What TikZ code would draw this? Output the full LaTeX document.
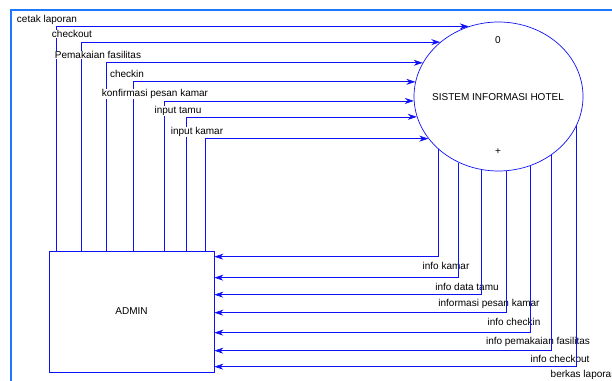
\documentclass[tikz,border=0pt]{standalone}
\usepackage{fontspec}
\setmainfont{Liberation Sans}
\usepackage{xcolor}
\usetikzlibrary{arrows.meta, shapes.geometric}
\definecolor{flowblue}{HTML}{1010F5}
\definecolor{frameblue}{HTML}{1E78FF}

\begin{document}
\begin{tikzpicture}[
  x=1pt, y=-1pt,
  frame/.style={draw=frameblue, line width=2pt},
  flow/.style={-{Stealth[length=9pt, width=6pt]}, draw=flowblue, line width=0.7pt},
  proc/.style={ellipse, draw=flowblue, line width=0.7pt, minimum width=169pt,
    minimum height=149pt, inner sep=0pt},
  ent/.style={rectangle, draw=flowblue, line width=0.7pt, minimum width=165pt,
    minimum height=121pt},
  txt/.style={font=\fontsize{10}{12}\selectfont, inner sep=0.5pt},
  lbl/.style={txt, fill=white},
]
  \useasboundingbox (0,0) rectangle (612,380);
  \draw[frame] (11,420) |- (650,10);

  % Process and external entity
  \node[proc] (sys) at (498.5,96.5) {};
  \node[txt] (sysnum)  at (498,40)  {0};
  \node[txt] (systxt)  at (498,97)  {SISTEM INFORMASI HOTEL};
  \node[txt] (sysplus) at (498,152) {+};
  \node[ent, label={[txt]center:ADMIN}] (admin) at (131.5,311.5) {};

  % ── ADMIN -> sistem ──────────────────────────────────────────────────
  \draw[flow] ([xshift=8pt]admin.north west)   |- (sys.113.6);
  \node[lbl] (cetak) at (47,20) {cetak laporan};
  \draw[flow] ([xshift=33pt]admin.north west)  |- (sys.137.7);
  \node[lbl] (checkout) at (72,34) {checkout};
  \draw[flow] ([xshift=58pt]admin.north west)  |- (sys.156.1);
  \node[lbl] (fasilitas) at (98,55) {Pemakaian fasilitas};
  \draw[flow] ([xshift=85pt]admin.north west)  |- (sys.170.1);
  \node[lbl] (checkin) at (127,74) {checkin};
  \draw[flow] ([xshift=116pt]admin.north west) |- (sys.183.05);
  \node[lbl] (konfirmasi) at (155,94) {konfirmasi pesan kamar};
  \draw[flow] ([xshift=138pt]admin.north west) |- (sys.194.9);
  \node[lbl] (tamu) at (178,111) {input tamu};
  \draw[flow] ([xshift=157pt]admin.north west) |- (sys.211.5);
  \node[lbl] (kamar) at (197,132) {input kamar};

  % ── sistem -> ADMIN ──────────────────────────────────────────────────
  \draw[flow] (sys.221.6) |- ([yshift=-6pt]admin.north east);
  \node[lbl] (infokamar) at (446,266) {info kamar};
  \draw[flow] (sys.239.9) |- ([yshift=-27pt]admin.north east);
  \node[lbl] (infotamu) at (467,287) {info data tamu};
  \draw[flow] (sys.257.3) |- ([yshift=-44pt]admin.north east);
  \node[lbl] (infopesan) at (489,304) {informasi pesan kamar};
  \draw[flow] (sys.276.5) |- ([yshift=-62pt]admin.north east);
  \node[lbl] (infocheckin) at (514,322) {info checkin};
  \draw[flow] (sys.295.3) |- ([yshift=-82pt]admin.north east);
  \node[lbl] (infofasilitas) at (538,342) {info pemakaian fasilitas};
  \draw[flow] (sys.312.0) |- ([yshift=-100pt]admin.north east);
  \node[lbl] (infocheckout) at (560,359) {info checkout};
  \draw[flow] (sys.339.0) |- ([yshift=-116pt]admin.north east);
  \node[lbl, anchor=west] (berkas) at (550,375) {berkas laporan};
\end{tikzpicture}
\end{document}
